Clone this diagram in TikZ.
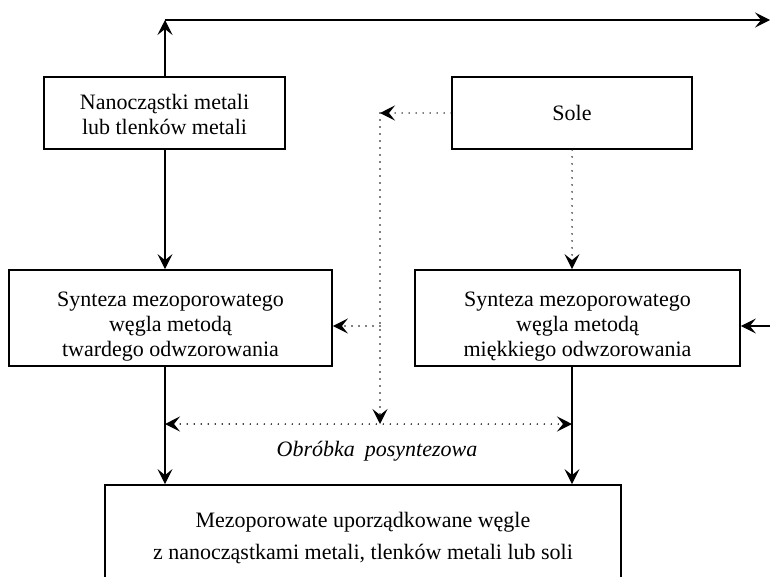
\documentclass[tikz,border=0pt]{standalone}
\usepackage{fontspec}
\setmainfont{Liberation Serif}
\usetikzlibrary{arrows.meta}
\begin{document}
\begin{tikzpicture}[x=1pt,y=-1pt,
  box/.style={draw, line width=1.8pt, inner sep=0pt, align=center, font=\fontsize{22}{25}\selectfont},
  tipstyle/.style={},
  solidarrow/.style={line width=1.2pt, -{Stealth[length=15pt,width=15pt,inset=6pt]}},
  dotline/.style={line width=1.7pt, line cap=round, dash pattern=on 0pt off 7pt},
  dotarrow/.style={dotline, -{Stealth[length=15pt,width=15pt,inset=6pt]}},
  lbl/.style={font=\itshape\fontsize{22}{25}\selectfont, inner sep=0pt}
]
\clip (0,0) rectangle (770,576);
\fill[white] (0,0) rectangle (770,576);

\node[box, minimum width=241pt, minimum height=72pt] (nano) at (164.5,113) {\rule{0pt}{19pt}Nanocząstki metali\\lub tlenków metali};
\node[box, minimum width=240pt, minimum height=72pt] (sole) at (572,113) {Sole};
\node[box, minimum width=323pt, minimum height=96pt] (hard) at (170.5,318) {\rule{0pt}{32pt}Synteza mezoporowatego\\węgla metodą\\twardego odwzorowania};
\node[box, minimum width=325pt, minimum height=96pt] (soft) at (577.5,318) {\rule{0pt}{32pt}Synteza mezoporowatego\\węgla metodą\\miękkiego odwzorowania};
\node[box, minimum width=516pt, minimum height=102pt] (prod) at (363,536) {\rule{0pt}{20pt}Mezoporowate uporządkowane węgle\\[7pt]z nanocząstkami metali, tlenków metali lub soli};

\coordinate (topL) at (165,20);
\coordinate (topR) at (770,20);
\coordinate (dotTop) at (380,113);
\coordinate (dotMid) at (380,326);
\coordinate (dotBot) at (380,424);
\coordinate (hL) at (165,424);
\coordinate (hR) at (572,424);
\coordinate (inR) at (770,326);

\draw[solidarrow] (nano.north -| topL) -- (topL);
\draw[solidarrow] (topL) -- (topR);
\draw[solidarrow] (nano.south -| topL) -- (hard.north -| topL);
\draw[dotarrow] (sole.west) -- (dotTop);
\draw[dotarrow] (dotTop) -- (dotBot);
\draw[dotarrow] (dotMid) -- (hard.east |- dotMid);
\draw[dotarrow] (sole.south) -- (soft.north -| sole.south);
\draw[solidarrow] (inR) -- (soft.east |- inR);
\draw[solidarrow] (hard.south -| topL) -- (prod.north -| topL);
\draw[solidarrow] (soft.south -| hR) -- (prod.north -| hR);
\draw[dotline, {Stealth[length=15pt,width=15pt,inset=6pt]}-{Stealth[length=15pt,width=15pt,inset=6pt]}] (hL) -- (hR);
\node[lbl] (obr) at (377,451) {Obróbka\hspace{0.45em}posyntezowa};
\end{tikzpicture}
\end{document}
